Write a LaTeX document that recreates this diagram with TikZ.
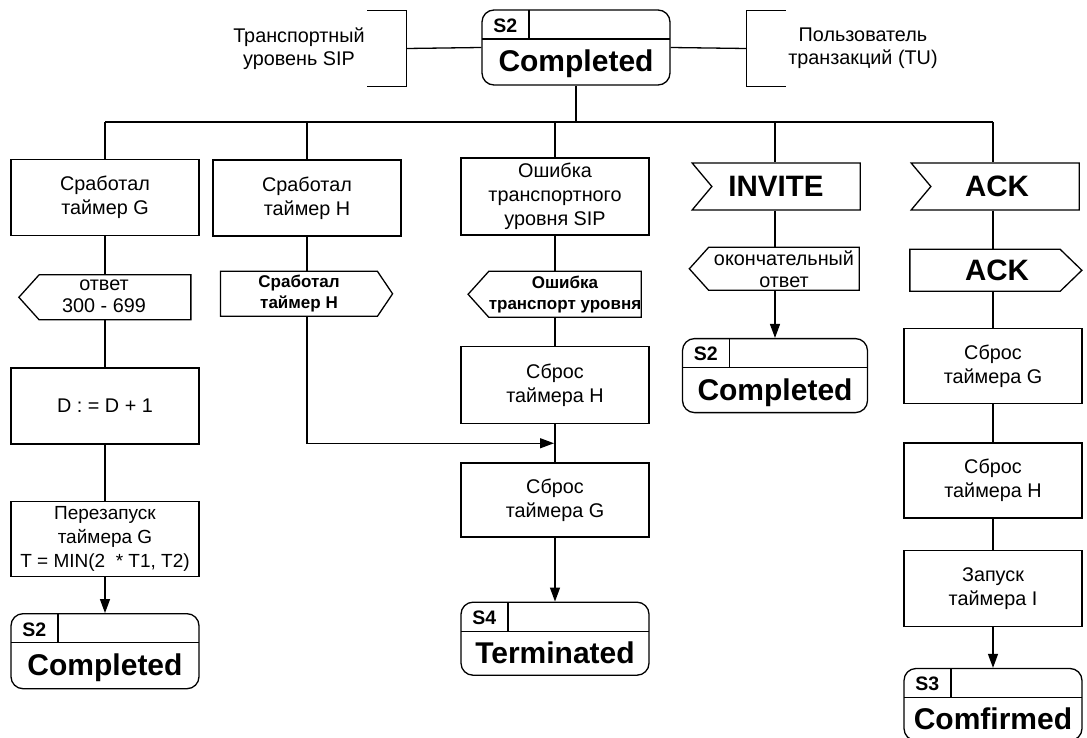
\documentclass[tikz,border=0pt]{standalone}
\usepackage{fontspec}
\setmainfont{Liberation Sans}
\usetikzlibrary{positioning,shapes.symbols,arrows.meta}

\begin{document}
\begin{tikzpicture}[x=1pt,y=-1pt,line width=1.3pt,
	box/.style={draw,rectangle,minimum width=188pt,minimum height=76pt,align=center,inner sep=1pt,font=\fontsize{19.8}{24}\selectfont},
	inp/.style={draw,signal,signal from=west,signal to=nowhere,signal pointer angle=100,minimum width=168pt,minimum height=47pt,inner sep=1pt,font=\bfseries\fontsize{29.5}{30}\selectfont},
	outl/.style={draw,signal,signal to=west,signal pointer angle=96,minimum width=172pt,minimum height=45pt,align=center,inner xsep=0pt,inner ysep=0pt,font=\fontsize{19.8}{22}\selectfont},
	outr/.style={draw,signal,signal to=east,signal pointer angle=112,minimum width=172pt,minimum height=45pt,align=center,inner xsep=1pt,inner ysep=0pt,font=\bfseries\fontsize{17}{21}\selectfont},
	state/.style={draw,rectangle,rounded corners=12pt,minimum width=188pt,minimum height=75pt,text height=49pt,text depth=0pt,inner sep=0pt,font=\bfseries\fontsize{30}{30}\selectfont,
		label={[anchor=base,xshift=24pt,yshift=-23pt,inner sep=0pt,text height=14pt,text depth=0pt,font=\bfseries\fontsize{19.5}{20}\selectfont]north west:#1},
		path picture={\draw ([yshift=-29pt]path picture bounding box.north west) -- ([yshift=-29pt]path picture bounding box.north east);
			\draw ([xshift=47pt]path picture bounding box.north west) -- ([xshift=47pt,yshift=-29pt]path picture bounding box.north west);}},
	brk/.style={minimum width=38pt,minimum height=75pt,inner sep=0pt},
	note/.style={align=center,inner sep=2pt,font=\fontsize{19.8}{23}\selectfont},
	arr/.style={-{Triangle[length=14pt,width=10pt]}}]
	\useasboundingbox (0,0) rectangle (1087,738);

	\node[state=S2]													(t)		at (576,47.5)	{Completed};
	\node[brk]														(lb)	at (387,48.5)	{};
	\node[note,node distance=0pt,left=of lb]						(tl)	{Транспортный\\уровень SIP};
	\node[brk]														(rb)	at (766,48.5)	{};
	\node[note,node distance=0pt,right=of rb]						(tu)	{Пользователь\\транзакций (TU)};
	\coordinate														(bus)	at (0,122);

	\node[box]														(g1)	at (105,197.5)	{Сработал\\таймер G};
	\node[outl,node distance=38pt,below=of g1,xshift=10pt]			(g2)	{\hspace*{-22pt}\begin{tabular}{@{}c@{}}ответ\\300 - 699\end{tabular}};
	\node[box,node distance=47pt,below=of g2,xshift=-10pt]			(g3)	{D : = D + 1};
	\node[box,minimum height=75pt,font=\fontsize{19}{24}\selectfont,node distance=56pt,below=of g3]	(g4)	{Перезапуск\\таймера G\\T = MIN(2\ \ * T1, T2)};
	\node[state=S2,node distance=36pt,below=of g4]					(g5)	{Completed};

	\node[box]														(h1)	at (307,198)	{Сработал\\таймер H};
	\node[outr,node distance=34pt,below=of h1,xshift=-8pt]			(h2)	{Сработал\\таймер H};

	\node[box,minimum height=77pt]									(e1)	at (555,196.5)	{Ошибка\\транспортного\\уровня SIP};
	\node[outl,minimum height=46pt,font=\bfseries\fontsize{17}{21}\selectfont,node distance=35pt,below=of e1,xshift=10pt]	(e2)	{Ошибка\\транспорт уровня};
	\node[box,minimum height=77pt,node distance=28pt,below=of e2,xshift=-10pt]	(e3)	{Сброс\\таймера H};
	\node[box,minimum height=74pt,node distance=38pt,below=of e3]	(e4)	{Сброс\\таймера G};
	\node[state=S4,minimum height=73pt,node distance=64pt,below=of e4]	(e5)	{Terminated};

	\node[inp]														(i1)	at (786,186.5)	{\hspace*{-20pt}INVITE};
	\node[outl,minimum width=170pt,minimum height=43pt,node distance=36pt,below=of i1,xshift=-2pt]	(i2)	{окончательный\\ответ};
	\node[state=S2,minimum width=185pt,minimum height=74pt,node distance=47pt,below=of i2,xshift=-9pt]	(i3)	{Completed};

	\node[inp]														(a1)	at (1005,186.5)	{\hspace*{-16pt}ACK};
	\node[outr,signal pointer angle=88,minimum height=42pt,font=\bfseries\fontsize{29.5}{30}\selectfont,node distance=38pt,below=of a1,xshift=-20pt]	(a2)	{\hspace*{24pt}ACK};
	\node[box,minimum width=178pt,minimum height=75pt,node distance=36pt,below=of a2,xshift=8pt]	(a3)	{Сброс\\таймера G};
	\node[box,minimum width=178pt,minimum height=75pt,node distance=38pt,below=of a3]	(a4)	{Сброс\\таймера H};
	\node[box,minimum width=178pt,node distance=31pt,below=of a4]	(a5)	{Запуск\\таймера I};
	\node[state=S3,minimum width=178pt,minimum height=72pt,node distance=41pt,below=of a5]	(a6)	{Comfirmed};

	\draw (lb.north west) -- (lb.north east) -- (lb.south east) -- (lb.south west);
	\draw (rb.north east) -- (rb.north west) -- (rb.south west) -- (rb.south east);
	\draw (lb.east) -- (t.west);
	\draw (t.east) -- (rb.west);
	\draw (t.south) -- (t.south |- bus);
	\draw (g1.north |- bus) -- (a3.north |- bus);

	\draw (g1.north |- bus) -- (g1.north);
	\draw (g1) -- (g1 |- g2.north);
	\draw (g3 |- g2.south) -- (g3);
	\draw (g3) -- (g4);
	\draw[arr] (g4) -- (g5);

	\draw (h1.north |- bus) -- (h1.north);
	\draw (h1) -- (h1 |- h2.north);
	\path (e3.south) -- (e4.north) coordinate[midway] (m);
	\draw[arr,shorten >=1pt] (h1 |- h2.south) |- (m);

	\draw (e1.north |- bus) -- (e1.north);
	\draw (e1) -- (e1 |- e2.north);
	\draw (e3 |- e2.south) -- (e3);
	\draw (e3) -- (e4);
	\draw[arr] (e4) -- (e5);

	\draw (i3 |- bus) -- (i3 |- i1.north);
	\draw (i3 |- i1.south) -- (i3 |- i2.north);
	\draw[arr] (i3 |- i2.south) -- (i3);

	\draw (a3 |- bus) -- (a3 |- a1.north);
	\draw (a3 |- a1.south) -- (a3 |- a2.north);
	\draw (a3 |- a2.south) -- (a3);
	\draw (a3) -- (a4);
	\draw (a4) -- (a5);
	\draw[arr] (a5) -- (a6);
\end{tikzpicture}
\end{document}
